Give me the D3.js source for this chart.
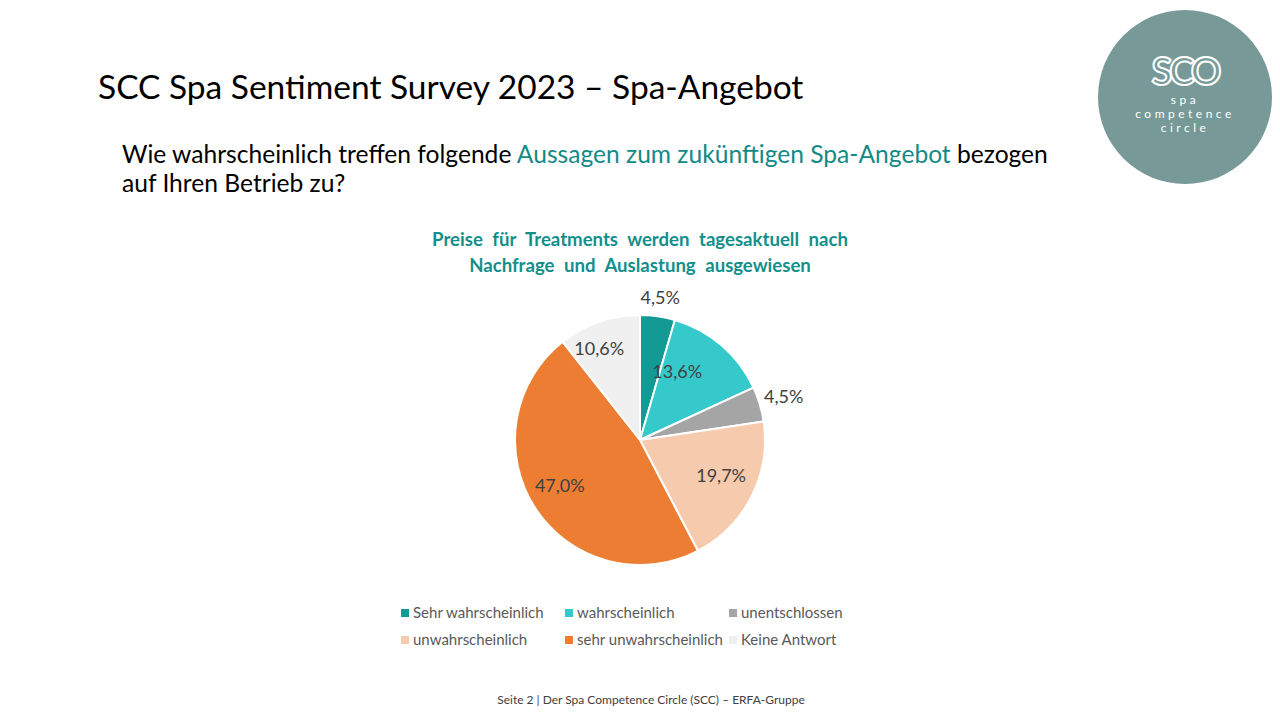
<!DOCTYPE html>
<html><head><meta charset="utf-8">
<script src="https://cdn.jsdelivr.net/npm/d3@7"></script>
<style>
html,body{margin:0;padding:0;background:#fff;}
svg{display:block;}
text{font-family:Lato,"Noto Sans",sans-serif;}
</style></head>
<body>
<svg id="c" width="1280" height="720"></svg>
<script>
const categories = ["Sehr wahrscheinlich","wahrscheinlich","unentschlossen","unwahrscheinlich","sehr unwahrscheinlich","Keine Antwort"];
const values = [4.5, 13.6, 4.5, 19.7, 47.0, 10.6];
const labels = ["4,5%","13,6%","4,5%","19,7%","47,0%","10,6%"];
const colors = ["#139a94","#35c9cb","#a5a5a5","#f6cbad","#ec7d32","#f0f0f0"];

const svg = d3.select("#c");

// Slide title
svg.append("text").attr("x",98).attr("y",99).attr("font-size",33.5).attr("fill","#000")
  .text("SCC Spa Sentiment Survey 2023 – Spa-Angebot");

// Question
const q = svg.append("text").attr("x",122).attr("y",163).attr("font-size",24.6).attr("fill","#000");
q.append("tspan").text("Wie wahrscheinlich treffen folgende ");
q.append("tspan").attr("fill","#138a87").text("Aussagen zum zukünftigen Spa-Angebot");
q.append("tspan").text(" bezogen");
svg.append("text").attr("x",122).attr("y",192).attr("font-size",24.6).attr("fill","#000").text("auf Ihren Betrieb zu?");

// Chart title
const ct = ["Preise für Treatments werden tagesaktuell nach","Nachfrage und Auslastung ausgewiesen"];
svg.selectAll(".ct").data(ct).join("text").attr("class","ct")
  .attr("x",640).attr("y",(d,i)=>246+i*26).attr("text-anchor","middle")
  .attr("font-size",18.6).attr("word-spacing",5).attr("font-weight","bold").attr("fill","#138f8a").text(d=>d);

// Pie
const cx=640, cy=440, R=125;
const pie = d3.pie().sort(null).value(d=>d)(values);
const arc = d3.arc().innerRadius(0).outerRadius(R);
const g = svg.append("g").attr("transform",`translate(${cx},${cy})`);
g.selectAll("path").data(pie).join("path")
  .attr("d",arc).attr("fill",(d,i)=>colors[i]).attr("stroke","#fff").attr("stroke-width",2).attr("stroke-linejoin","round");

const labelR = [1.15,0.62,1.2,0.71,0.74,0.8];
const labelShift = [0,-12,0,-3,3,-5]; // degrees
g.selectAll(".lbl").data(pie).join("text").attr("class","lbl")
  .each(function(d,i){
    const a=(d.startAngle+d.endAngle)/2 + labelShift[i]*Math.PI/180;
    const r=R*labelR[i];
    d3.select(this).attr("x",r*Math.sin(a)).attr("y",-r*Math.cos(a));
  })
  .attr("text-anchor","middle").attr("dy","0.35em").attr("font-size",18).attr("fill","#404040")
  .text((d,i)=>labels[i]);

// Legend
const legX=[401,565,729], legY=[613,640];
const leg = svg.selectAll(".leg").data(categories).join("g").attr("class","leg")
  .attr("transform",(d,i)=>`translate(${legX[i%3]},${legY[Math.floor(i/3)]})`);
leg.append("rect").attr("x",0).attr("y",-4).attr("width",8).attr("height",8).attr("fill",(d,i)=>colors[i]);
leg.append("text").attr("x",12).attr("y",0).attr("dy","0.35em").attr("font-size",15).attr("fill","#595959").text(d=>d);

// Footer
svg.append("text").attr("x",651).attr("y",704).attr("text-anchor","middle").attr("font-size",12).attr("fill","#404040")
  .text("Seite 2 | Der Spa Competence  Circle (SCC) – ERFA-Gruppe");

// Logo
const lg = svg.append("g").attr("transform","translate(1185,97)");
lg.append("circle").attr("r",87).attr("fill","#779a98");
lg.append("text").attr("x",0).attr("y",-12).attr("text-anchor","middle").attr("font-size",38).attr("font-weight","bold")
  .attr("fill","none").attr("stroke","#fff").attr("stroke-width",2).attr("letter-spacing",-3).text("SCO");
const lw=["spa","competence","circle"];
lg.selectAll(".lw").data(lw).join("text").attr("class","lw").attr("x",0).attr("y",(d,i)=>7+i*14)
  .attr("text-anchor","middle").attr("font-size",12).attr("letter-spacing",3.5).attr("fill","#fff").text(d=>d);
</script>
</body></html>
